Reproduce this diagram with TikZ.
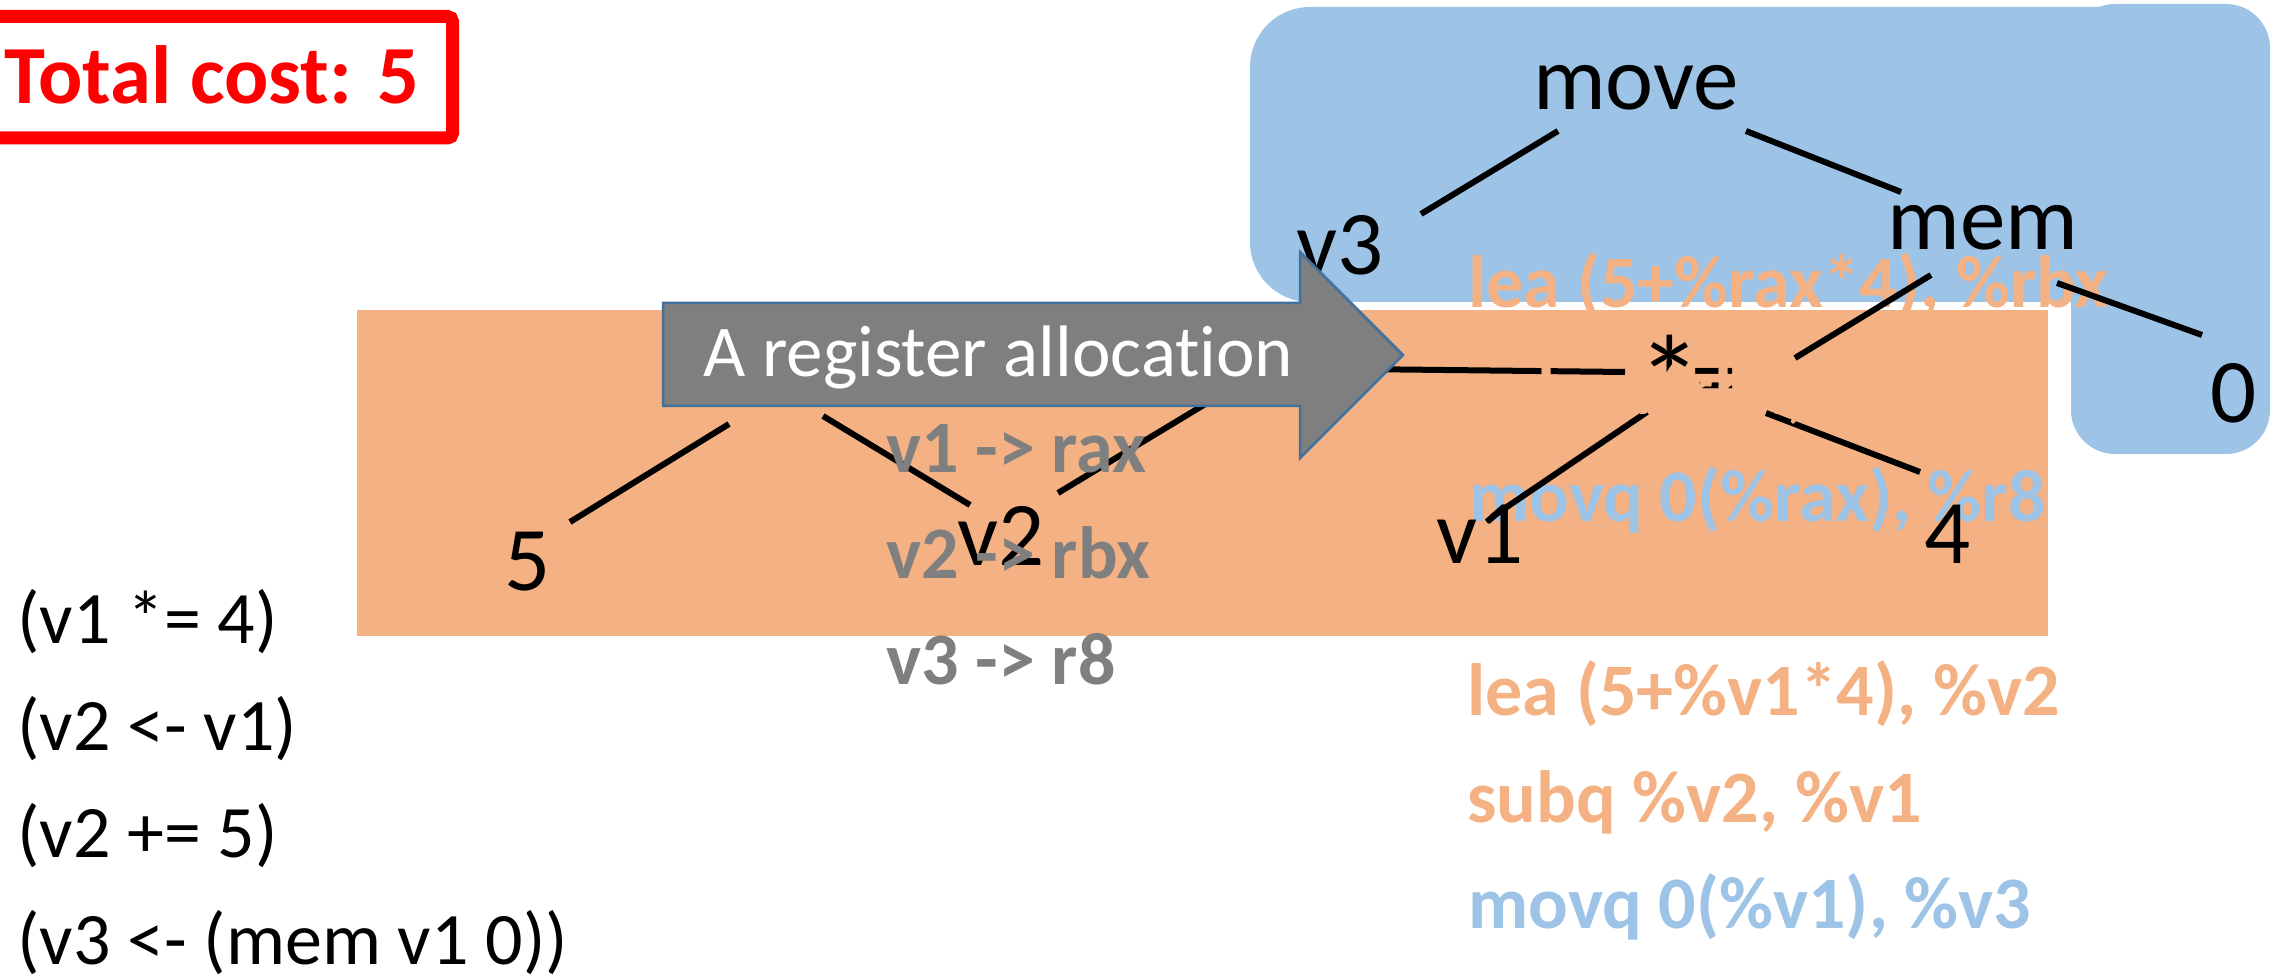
\documentclass[tikz,border=0pt]{standalone}
\usepackage{graphicx}
\usepackage{fontspec}
\setmainfont{Carlito}[Ligatures={NoCommon,NoContextual,NoRare}]
\definecolor{peach}{HTML}{F4B183}
\definecolor{sky}{HTML}{9DC3E6}
\definecolor{slate}{HTML}{7F7F7F}
\definecolor{edgeblue}{HTML}{41719C}
\tikzset{
  treelabel/.style={inner sep=0pt, anchor=base, font=\fontsize{45.5}{54}\selectfont},
  treeedge/.style={line width=3pt},
  codeline/.style={inner sep=0pt, anchor=base west, font=\fontsize{37}{44}\selectfont},
  asmline/.style={inner sep=0pt, anchor=base west, font=\fontsize{37}{44}\selectfont\bfseries},
}
\begin{document}
\begin{tikzpicture}[x=0.5pt,y=-0.5pt]
\useasboundingbox (0,0) rectangle (2282,978);

% cost box
\draw[red, line width=6.5pt, rounded corners=2.5pt] (-40,16.5) rectangle (452.5,138);
\node[inner sep=0pt, anchor=base west, text=red, font=\fontsize{41.3}{50}\selectfont\bfseries] (cost) at (4,104) {Total cost: 5};

% blue region (move tile) and orange region (lea tile)
\fill[sky, rounded corners=30pt] (1250,7) rectangle (2200,302);
\fill[sky, rounded corners=22pt] (2071,4) rectangle (2270,454);
\fill[peach] (357,310) rectangle (2048,636);

% instructions chosen for the tiles, after allocation
\node[asmline, text=peach] (leaR) at (1468,308) {lea (5+\%rax*4), \%rbx};
\node[asmline, text=sky] (movR) at (1469,522) {movq 0(\%rax), \%r8};

% tree nodes
\node[treelabel] (move) at (1636,110) {move};
\node[treelabel] (v3) at (1340,275) {v3};
\node[treelabel] (mem) at (1983,250) {mem};
\node[treelabel] (zero) at (2234,423) {0};
\node[treelabel, anchor=base west] (star) at (1648,408)
  {\makebox[0.47em][c]{\raisebox{-0.21em}{\scalebox{1.43}{*}}}=};
\node[treelabel] (v1) at (1480,564) {v1};
\node[treelabel] (four) at (1948,564) {4};
\node[treelabel] (five) at (528,590) {5};
\node[treelabel] (vtwo) at (1001,566) {v2};
\coordinate (opL) at (782,391);
\coordinate (opR) at (1265,368);

% tree edges
\draw[treeedge] ([shift={(-78,21)}]move.base) -- ([shift={(81,-61)}]v3.base);
\draw[treeedge] ([shift={(110,21)}]move.base) -- ([shift={(-82,-58)}]mem.base);
\draw[treeedge] ([shift={(-52,25)}]mem.base) -- ([shift={(147,-50)}]star.base west);
\draw[treeedge] ([shift={(74,33)}]mem.base) -- ([shift={(-32,-88)}]zero.base);
\draw[treeedge] ([shift={(-1,4)}]star.base west) -- ([shift={(12,-47)}]v1.base);
\draw[treeedge] ([shift={(118,5)}]star.base west) -- ([shift={(-28,-92)}]four.base);
\draw[treeedge] (opR) -- ([shift={(-23,-36)}]star.base west);
\draw[treeedge] ([shift={(-53,33)}]opL) -- ([shift={(42,-68)}]five.base);
\draw[treeedge] ([shift={(41,25)}]opL) -- ([shift={(-31,-61)}]vtwo.base);
\draw[treeedge] ([shift={(57,-73)}]vtwo.base) -- (opR);

% middle instruction, in the tile colour
\node[asmline, text=peach] (subR) at (1468,415) {subq \%rbx, \%rax};

% allocation arrow
\path[fill=slate, draw=edgeblue, line width=1.25pt]
  (663,303) -- (1300,303) -- (1300,252) -- (1403,355) -- (1300,458) -- (1300,406) -- (663,406) -- cycle;
\node[inner sep=0pt, anchor=base west, text=white, font=\fontsize{36.5}{44}\selectfont] (alloc) at (703,377) {A register allocation};

% register assignment
\node[asmline, text=slate] (ra1) at (886,473) {v1 -> rax};
\node[asmline, text=slate] (ra2) at (886,578) {v2 -> rbx};
\node[asmline, text=slate] (ra3) at (886,684) {v3 -> r8};

% source instructions
\node[codeline] (s1) at (17,643) {(v1 *= 4)};
\node[codeline] (s2) at (17,750) {(v2 <- v1)};
\node[codeline] (s3) at (17,857) {(v2 += 5)};
\node[codeline] (s4) at (17,964) {(v3 <- (mem v1 0))};

% instructions before allocation
\node[asmline, text=peach] (i1) at (1467,715) {lea (5+\%v1*4), \%v2};
\node[asmline, text=peach] (i2) at (1467,822) {subq \%v2, \%v1};
\node[asmline, text=sky] (i3) at (1468,928) {movq 0(\%v1), \%v3};
\end{tikzpicture}
\end{document}
